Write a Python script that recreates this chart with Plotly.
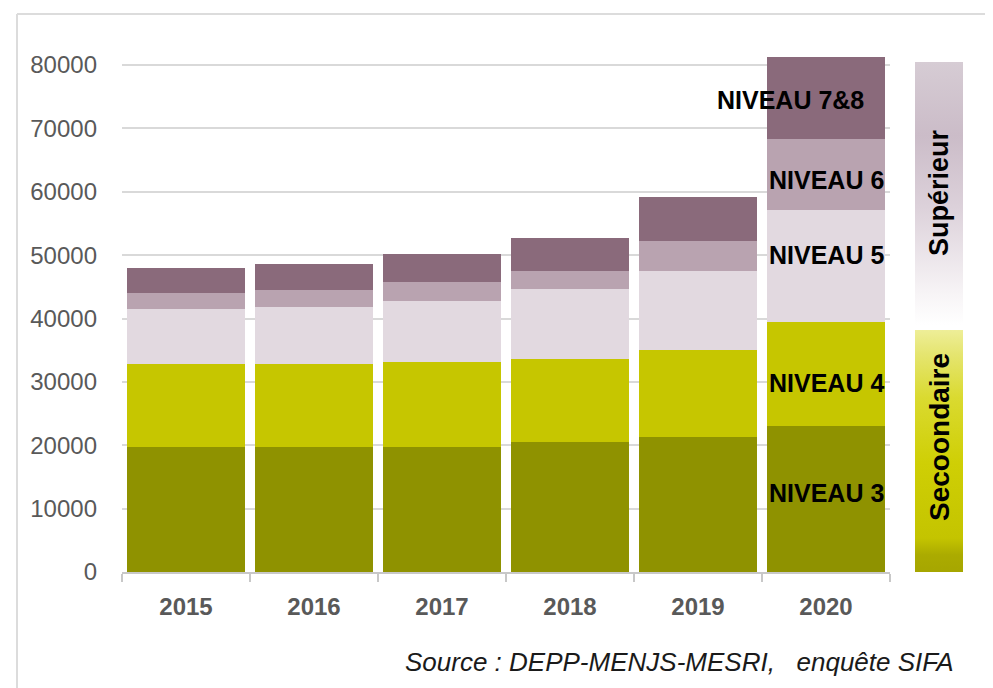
import plotly.graph_objects as go

years = ["2015", "2016", "2017", "2018", "2019", "2020"]
niveau3 = [19700, 19700, 19700, 20500, 21300, 23000]
niveau4 = [13100, 13100, 13400, 13150, 13800, 16500]
niveau5 = [8700, 9000, 9700, 10950, 12400, 17700]
niveau6 = [2500, 2700, 3000, 2900, 4700, 11100]
niveau78 = [3950, 4150, 4400, 5200, 6900, 13000]

series_names = ["NIVEAU 3", "NIVEAU 4", "NIVEAU 5", "NIVEAU 6", "NIVEAU 7&8"]
series_values = [niveau3, niveau4, niveau5, niveau6, niveau78]
series_colors = ["#8f9200", "#c6c600", "#e2d9e0", "#b9a3b0", "#8a6a7b"]

y_ticks = [0, 10000, 20000, 30000, 40000, 50000, 60000, 70000, 80000]

OFF = 8  # page body margin
W, H = 993 - OFF, 688 - OFF
ML, MT = 122 - OFF, 46 - OFF
plot_w = 851
plot_h = 526
MR = W - ML - plot_w
MB = H - MT - plot_h
BOTTOM = 572  # reference pixel of y=0

fig = go.Figure()
for name, vals, col in zip(series_names, series_values, series_colors):
    fig.add_trace(go.Bar(x=years, y=vals, name=name, marker=dict(color=col, line=dict(width=0)),
                         showlegend=False, hoverinfo="x+y+name", xaxis="x", yaxis="y"))

# labels for the last bar, placed near segment mid-points
last = len(years) - 1
base = 0
label_xshift = {"NIVEAU 7&8": -36}
label_yshift = {"NIVEAU 3": 6, "NIVEAU 4": -9, "NIVEAU 5": 11, "NIVEAU 6": -6, "NIVEAU 7&8": -2}
for name, vals in zip(series_names, series_values):
    mid = base + vals[last] / 2
    base += vals[last]
    fig.add_annotation(x=last, y=mid, xref="x", yref="y", text="<b>%s</b>" % name,
                       showarrow=False, xanchor="center", yanchor="middle",
                       xshift=label_xshift.get(name, 0), yshift=label_yshift.get(name, 0),
                       font=dict(family="Liberation Sans, Arial", size=25, color="#000000"))

# gradient side bar (decoration) on its own axes, units = pixels above plot bottom
gx0, gx1 = 915, 963
fig.add_trace(go.Scatter(x=[0, 1, 1, 0, 0], y=[247, 247, 510, 510, 247], mode="lines",
                         line=dict(width=0), fill="toself", xaxis="x2", yaxis="y2",
                         fillgradient=dict(type="vertical", colorscale=[
                             [0.0, "#ffffff"], [0.12, "#f7f4f6"], [0.45, "#dcd1da"],
                             [0.72, "#cbbcc8"], [1.0, "#d6ccd4"]]),
                         showlegend=False, hoverinfo="skip"))
fig.add_trace(go.Scatter(x=[0, 1, 1, 0, 0], y=[0, 0, 242, 242, 0], mode="lines",
                         line=dict(width=0), fill="toself", xaxis="x2", yaxis="y2",
                         fillgradient=dict(type="vertical", colorscale=[
                             [0.0, "#a6a600"], [0.07, "#abab00"], [0.14, "#c4c400"],
                             [0.45, "#cfcf05"], [0.72, "#dada30"], [0.9, "#e5e570"],
                             [1.0, "#eeee98"]]),
                         showlegend=False, hoverinfo="skip"))

fig.add_annotation(x=0.5, y=BOTTOM - 193, xref="x2", yref="y2",
                   text="<b>Supérieur</b>", textangle=-90, showarrow=False,
                   font=dict(family="Liberation Sans, Arial", size=27, color="#000000"))
fig.add_annotation(x=0.5, y=BOTTOM - 437, xref="x2", yref="y2",
                   text="<b>Secoondaire</b>", textangle=-90, showarrow=False,
                   font=dict(family="Liberation Sans, Arial", size=28, color="#000000"))

# source
fig.add_annotation(x=(956 - 122) / plot_w, y=(BOTTOM - 662) / plot_h, xref="paper", yref="paper",
                   text="<i>Source : DEPP-MENJS-MESRI,\u00a0\u00a0 enquête SIFA</i>",
                   showarrow=False, xanchor="right", yanchor="middle",
                   font=dict(family="Liberation Sans, Arial", size=26, color="#1a1a1a"))

# outer frame lines
fx = (17 - 122) / plot_w
fy = (BOTTOM - 14) / plot_h
fig.add_shape(type="line", xref="paper", yref="paper", x0=fx, x1=2, y0=fy, y1=fy,
              line=dict(color="#dcdcdc", width=2))
fig.add_shape(type="line", xref="paper", yref="paper", x0=fx, x1=fx, y0=fy, y1=-2,
              line=dict(color="#dcdcdc", width=2))

fig.update_layout(
    width=W, height=H,
    margin=dict(l=ML, r=MR, t=MT, b=MB, autoexpand=False),
    paper_bgcolor="#ffffff", plot_bgcolor="#ffffff",
    barmode="stack", bargap=0.078,
    xaxis=dict(domain=[0, 768 / plot_w], type="category", range=[-0.5, len(years) - 0.5],
               showline=True, linecolor="#c8c8c8", tickangle=0, automargin=False,
               linewidth=2, ticks="outside", tickson="boundaries", ticklen=8, tickcolor="#c8c8c8",
               tickwidth=2, showgrid=False, anchor="y", ticklabelstandoff=12,
               tickfont=dict(family="Liberation Sans, Arial", size=24, color="#595959", weight="bold")),
    yaxis=dict(range=[0, 83000], tickvals=y_ticks, tickformat="d", showgrid=True,
               gridcolor="#d9d9d9", gridwidth=2, automargin=False, anchor="x",
               zeroline=False, showline=False, ticks="", ticklabelstandoff=24,
               tickfont=dict(family="Liberation Sans, Arial", size=24, color="#595959")),
    xaxis2=dict(domain=[(gx0 - 122) / plot_w, (gx1 - 122) / plot_w], range=[0, 1], anchor="y2",
                visible=False, fixedrange=True),
    yaxis2=dict(domain=[0, 1], range=[0, plot_h], anchor="x2", visible=False, fixedrange=True),
)

fig.write_html("out.html")
